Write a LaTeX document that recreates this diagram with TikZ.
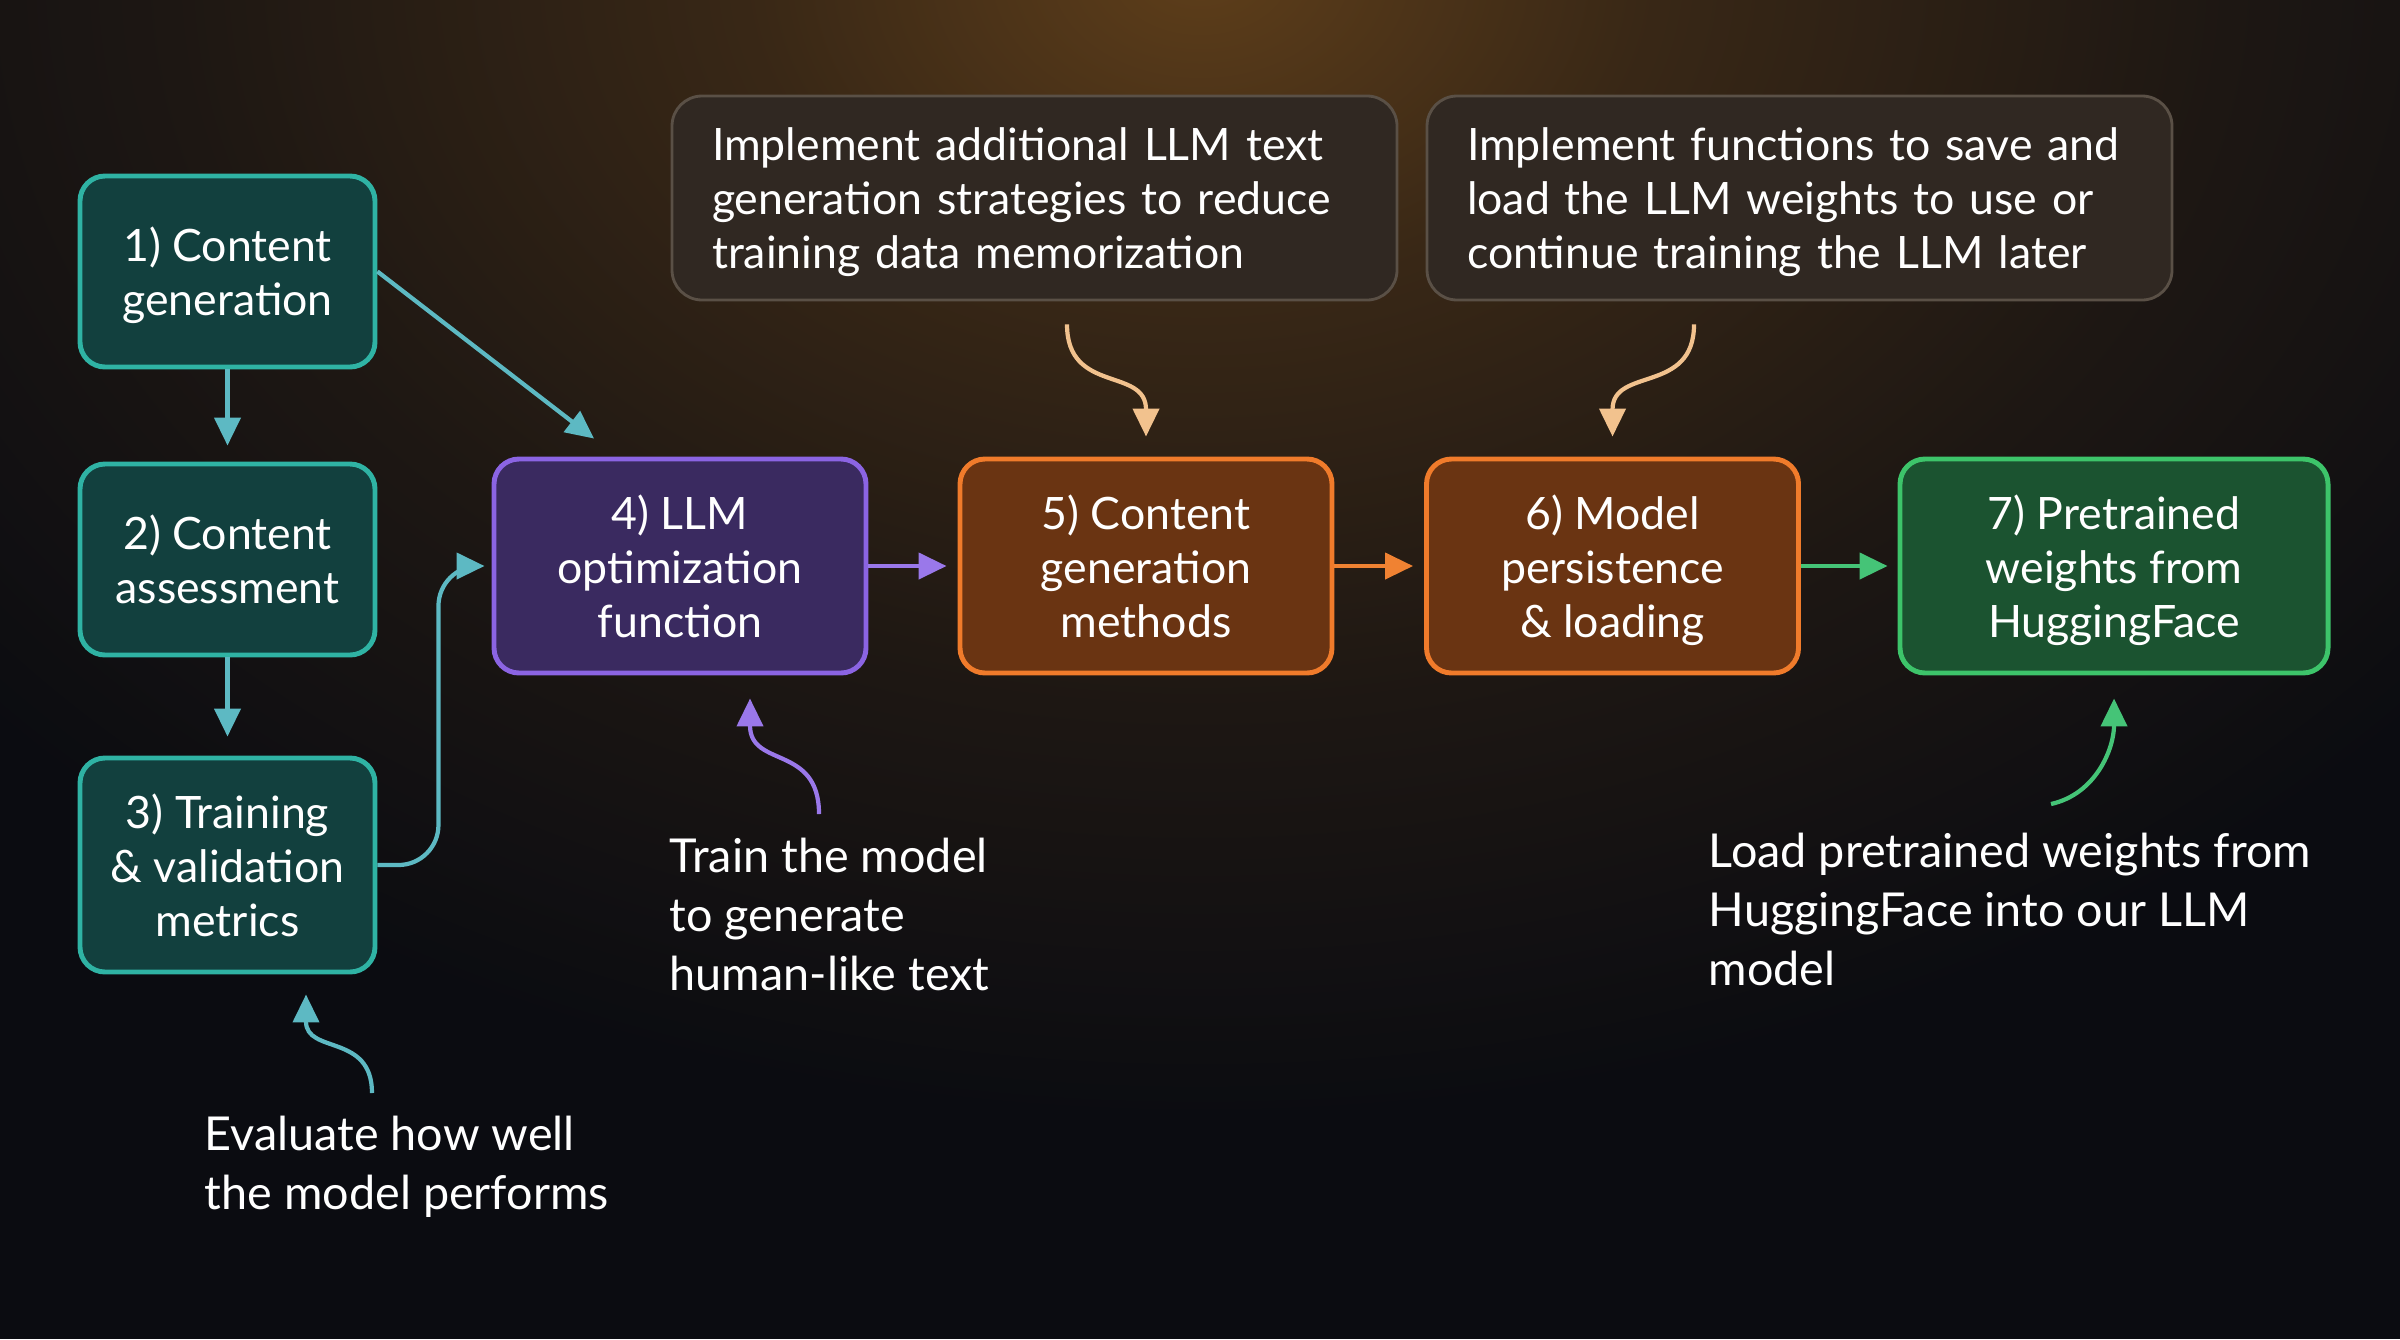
\documentclass[tikz,border=0pt]{standalone}
\usepackage{fontspec}
\setmainfont{Lato}
\usetikzlibrary{arrows.meta}

\definecolor{bgc}{HTML}{0B0C11}
\definecolor{glowc}{HTML}{5E3E1A}
\definecolor{tealline}{HTML}{2FB3A4}
\definecolor{tealfill}{HTML}{12403E}
\definecolor{purpleline}{HTML}{8B64E3}
\definecolor{purplefill}{HTML}{3A2A60}
\definecolor{orangeline}{HTML}{F07B2B}
\definecolor{orangefill}{HTML}{6A3412}
\definecolor{greenline}{HTML}{3DC46A}
\definecolor{greenfill}{HTML}{1B5330}
\definecolor{noteline}{HTML}{5A5046}
\definecolor{notefill}{HTML}{302822}
\definecolor{tealarrow}{HTML}{5DB9C3}
\definecolor{purplearrow}{HTML}{9A78EA}
\definecolor{orangearrow}{HTML}{F08232}
\definecolor{greenarrow}{HTML}{45C477}
\definecolor{peacharrow}{HTML}{F2C28E}

\pgfdeclareradialshading{topglow}{\pgfpoint{0bp}{0bp}}{color(0bp)=(glowc); color(7bp)=(glowc!55!bgc); color(16bp)=(glowc!22!bgc); color(25bp)=(bgc); color(50bp)=(bgc)}

\tikzset{
  stepbox/.style={draw, rounded corners=0.25cm, line width=1.4pt, align=center, text=white,
    inner sep=0pt, font=\fontsize{12.7}{15.4}\selectfont},
  tealbox/.style={stepbox, draw=tealline, fill=tealfill, minimum width=2.95cm, minimum height=1.91cm},
  purplebox/.style={stepbox, draw=purpleline, fill=purplefill, minimum width=3.72cm, minimum height=2.14cm},
  orangebox/.style={stepbox, draw=orangeline, fill=orangefill, minimum width=3.72cm, minimum height=2.14cm},
  greenbox/.style={stepbox, draw=greenline, fill=greenfill, minimum width=4.28cm, minimum height=2.14cm},
  notebox/.style={draw=noteline, fill=notefill, rounded corners=0.3cm, line width=0.8pt, text=white,
    align=left, inner xsep=0.4cm, minimum height=2.04cm, font=\fontsize{12.7}{15.4}\selectfont},
  remark/.style={anchor=north west, align=left, text=white, inner sep=0pt,
    font=\fontsize{13.3}{16.8}\selectfont},
  link/.style={-{Triangle[length=0.28cm,width=0.26cm]}, line width=1.2pt},
}

\begin{document}
\begin{tikzpicture}
  % background and glow
  \fill[bgc] (0,0) rectangle (24,-13.39);
  \begin{scope}
    \clip (0,0) rectangle (24,-13.39);
    \shade[shading=topglow] (12,0.3) ellipse (16 and 11.5);
  \end{scope}
  \useasboundingbox (0,0) rectangle (24,-13.39);

  % steps
  \node[tealbox] at (2.275,-2.715) (gen) {1) Content\\\smash{generation}};
  \node[tealbox] at (2.275,-5.595) (assess) {2) Content\\assessment};
  \node[tealbox, minimum height=2.14cm] at (2.275,-8.65) (metrics) {3) Training\\\& validation\\metrics};
  \node[purplebox] at (6.80,-5.66) (optim) {4) LLM\\optimization\\function};
  \node[orangebox] at (11.46,-5.66) (methods) {5) Content\\generation\\methods};
  \node[orangebox] at (16.125,-5.66) (persist) {6) Model\\persistence\\\smash{\& loading}};
  \node[greenbox] at (21.14,-5.66) (pretrained) {7) Pretrained\\weights from\\\smash{HuggingFace}};

  % notes
  \node[notebox, text width=6.45cm] at (10.345,-1.98) (strategies) {Implement additional LLM text\\generation strategies to reduce\\\smash{training data memorization}};
  \node[notebox, text width=6.65cm] at (17.995,-1.98) (saveload) {Implement functions to save and\\load the LLM weights to use or\\\smash{continue training the LLM later}};
  \node[remark] at (6.69,-8.37) (train) {Train the model\\to generate\\human-like text};
  \node[remark] at (2.04,-11.15) (evaluate) {Evaluate how well\\the model performs};
  \node[remark] at (17.08,-8.32) (load) {Load pretrained weights from\\HuggingFace into our LLM\\model};

  % main flow
  \draw[link, tealarrow, shorten >=0.16cm] (gen) -- (assess);
  \draw[link, tealarrow, shorten >=0.19cm] (assess) -- (metrics);
  \draw[link, tealarrow] (gen.east) -- ([shift={(-0.86,0.18)}]optim.north);
  \draw[link, tealarrow, rounded corners=0.4cm] (metrics.east) -- ++(0.61,0) |- ([xshift=-0.07cm]optim.west);
  \draw[link, purplearrow, shorten >=0.11cm] (optim) -- (methods);
  \draw[link, orangearrow, shorten >=0.11cm] (methods) -- (persist);
  \draw[link, greenarrow, shorten >=0.1cm] (persist) -- (pretrained);

  % remarks
  \draw[link, peacharrow] ([shift={(0.325,-0.23)}]strategies.south) .. controls +(0,-0.7) and +(0,0.7) .. ([yshift=0.2cm]methods.north);
  \draw[link, peacharrow] ([shift={(-1.055,-0.23)}]saveload.south) .. controls +(0,-0.7) and +(0,0.7) .. ([yshift=0.2cm]persist.north);
  \draw[link, purplearrow] ([shift={(1.50,0.23)}]train.north west) .. controls +(0,0.7) and +(0,-0.7) .. ([shift={(0.70,-0.23)}]optim.south);
  \draw[link, tealarrow] ([shift={(1.68,0.22)}]evaluate.north west) .. controls +(0,0.6) and +(0,-0.6) .. ([shift={(0.785,-0.2)}]metrics.south);
  \draw[link, greenarrow] ([shift={(3.43,0.28)}]load.north west) .. controls +(0.45,0.1) and +(0,-0.5) .. ([yshift=-0.23cm]pretrained.south);
\end{tikzpicture}
\end{document}
